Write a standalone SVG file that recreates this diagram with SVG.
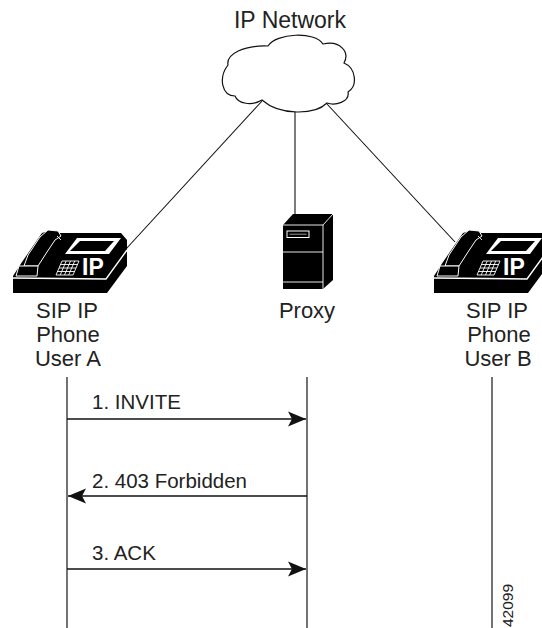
<svg xmlns="http://www.w3.org/2000/svg" width="542" height="628" viewBox="0 0 542 628">
  <style>
    .lbl { font-family: "Liberation Sans", Arial, Helvetica, sans-serif; font-size: 22px; fill: #222; }
    .msg { font-family: "Liberation Sans", Arial, Helvetica, sans-serif; font-size: 20.5px; fill: #222; }
    .tag { font-family: "Liberation Sans", Arial, Helvetica, sans-serif; font-size: 15.5px; fill: #222; }
    .link { stroke: #111; stroke-width: 1.1; fill: none; }
    .life { stroke: #444; stroke-width: 1.5; fill: none; }
    .arrow { stroke: #111; stroke-width: 1.3; fill: none; }
    .wl { stroke: #fff; fill: none; }
  </style>
  <defs>
    <marker id="head" markerUnits="userSpaceOnUse" markerWidth="20" markerHeight="16" refX="19" refY="8" orient="auto">
      <path d="M19,8 L1,0.5 L5,8 L1,15.5 Z" fill="#111"/>
    </marker>
    <!-- desk IP phone icon -->
    <g id="ipphone">
      <!-- body with base slab -->
      <path d="M13,276 L22,262 L42,233 L52,230 L60,233 L121,233 L127,240 L127,266 L107,293 L13,293 Z" fill="#000"/>
      <!-- edge between top surface and front slab -->
      <path class="wl" stroke-width="1.4" d="M13,278 L106,279 L127,250"/>
      <!-- handset -->
      <path d="M24,266 L38,266 L47,252 L55,240 L61,236 L58,231 L48,230 L40,237 L28,255 Z" fill="#000" stroke="#fff" stroke-width="1"/>
      <path class="wl" stroke-width="0.9" d="M57,236 L61,240"/>
      <!-- mouthpiece block -->
      <path d="M19,266 L38,266 L37,276 L16,276 Z" fill="#000" stroke="#fff" stroke-width="1"/>
      <!-- display -->
      <path d="M65,254 L109,254 L121,238 L77,238 Z" fill="#fff"/>
      <path d="M70,251 L105,251 L114,241 L80,241 Z" fill="#000"/>
      <!-- keypad -->
      <g class="wl" stroke-width="0.9">
        <path d="M56,275 L73,275 L79,261 L62,261 Z"/>
        <path d="M57.5,271.5 L74.5,271.5 M59,268 L76,268 M60.5,264.5 L77.5,264.5"/>
        <path d="M60.2,275 L66.2,261 M64.5,275 L70.5,261 M68.7,275 L74.7,261"/>
      </g>
      <text x="82" y="275" font-family="Liberation Sans, Arial, sans-serif" font-weight="bold" font-size="23" fill="#fff">IP</text>
    </g>
  </defs>

  <rect width="542" height="628" fill="#fff"/>

  <!-- links from the network cloud -->
  <g id="connectors">
    <path class="link" d="M262,101 L126,249"/>
    <path class="link" d="M295,111 L295,214"/>
    <path class="link" d="M327,104 L455,242"/>
    <!-- lifelines -->
    <path class="life" d="M67,377 V628"/>
    <path class="life" d="M307,377 V628"/>
    <path class="life" d="M492,377 V628"/>
    <!-- messages -->
    <path class="arrow" d="M67,419 H306" marker-end="url(#head)"/>
    <path class="arrow" d="M307,496 H68" marker-end="url(#head)"/>
    <path class="arrow" d="M67,569 H306" marker-end="url(#head)"/>
  </g>

  <g id="ip-network">
    <text class="lbl" x="290" y="28" text-anchor="middle" style="font-size:23px">IP Network</text>
    <path d="M262,100 C252,106 238,104 235,96 C222,96 218,78 228,65 C226,54 244,45 268,46 C276,33 315,31 323,44 C340,40 350,52 344,63 C356,68 358,86 348,92 C350,102 335,106 327,103 C315,115 280,116 262,100 Z" fill="#fff" stroke="#111" stroke-width="1.2"/>
  </g>

  <g id="phone-a">
    <use href="#ipphone"/>
    <text class="lbl" x="67" y="318" text-anchor="middle">SIP IP</text>
    <text class="lbl" x="68" y="342" text-anchor="middle">Phone</text>
    <text class="lbl" x="68" y="366" text-anchor="middle">User A</text>
  </g>

  <g id="proxy">
    <path d="M283,225 L293,214 L333,214 L333,280 L323,289 L283,289 Z" fill="#000"/>
    <g class="wl" stroke-width="0.9">
      <path d="M283,225 H323 V289 M323,225 L333,214"/>
      <path d="M283,252 H323 M283,282 H323"/>
    </g>
    <rect x="287" y="231" width="22" height="6.5" fill="#000" stroke="#fff" stroke-width="1"/>
    <path d="M289.5,234.2 H306.5" stroke="#bbb" stroke-width="0.8"/>
    <text class="lbl" x="307" y="318" text-anchor="middle">Proxy</text>
  </g>

  <g id="phone-b">
    <use href="#ipphone" transform="translate(421,0)"/>
    <text class="lbl" x="497" y="318" text-anchor="middle">SIP IP</text>
    <text class="lbl" x="499" y="342" text-anchor="middle">Phone</text>
    <text class="lbl" x="498" y="366" text-anchor="middle">User B</text>
  </g>

  <g id="labels">
    <text class="msg" x="92" y="409">1. INVITE</text>
    <text class="msg" x="92" y="488">2. 403 Forbidden</text>
    <text class="msg" x="92" y="560">3. ACK</text>
    <text class="tag" transform="translate(513,627) rotate(-90)">42099</text>
  </g>
</svg>
